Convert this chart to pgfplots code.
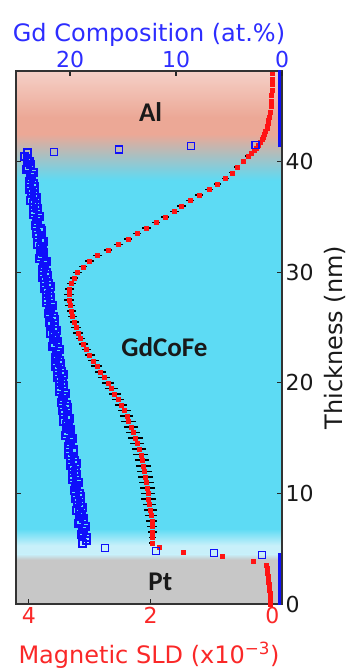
\documentclass[border=0pt]{standalone}
\usepackage{fontspec}
\setmainfont{DejaVu Sans}
\newfontfamily\labfont{Carlito}
\usepackage{pgfplots}
\pgfplotsset{compat=1.18}
\usepackage{pgfplotstable}

\definecolor{cyanbg}{RGB}{93,219,244}
\definecolor{lightband}{RGB}{200,240,250}
\definecolor{ptgray}{RGB}{199,199,199}
\definecolor{alsalmon}{RGB}{236,168,150}
\definecolor{alpink}{RGB}{246,212,204}
\definecolor{myblue}{RGB}{15,15,250}
\definecolor{myred}{RGB}{255,20,20}
\definecolor{txtblue}{RGB}{45,45,255}
\definecolor{txtred}{RGB}{250,40,40}

\pgfplotstableread{
t sld err
0.0 0.03 0
0.25 0.03 0
0.5 0.03 0
0.75 0.035 0
1.0 0.04 0
1.25 0.045 0
1.5 0.05 0
1.75 0.055 0
2.0 0.06 0
2.25 0.065 0
2.5 0.07 0
2.75 0.075 0
3.0 0.08 0
3.25 0.09 0
3.5 0.10 0
3.9 0.31 0
4.34 0.82 0
4.7 1.46 0
5.15 1.85 0
5.5 1.97 0.05
6.0 1.97 0.06
6.5 1.97 0.07
7.0 1.98 0.08
7.5 1.98 0.09
8.0 1.99 0.10
8.5 2.00 0.10
9.0 2.02 0.11
9.5 2.03 0.12
10.0 2.04 0.12
10.5 2.05 0.12
11.0 2.07 0.12
11.5 2.08 0.12
12.0 2.10 0.12
12.5 2.12 0.12
13.0 2.14 0.12
13.5 2.16 0.12
14.0 2.19 0.12
14.5 2.22 0.12
15.0 2.25 0.12
15.5 2.29 0.12
16.0 2.32 0.12
16.5 2.36 0.12
17.0 2.39 0.11
17.5 2.43 0.11
18.0 2.48 0.10
18.5 2.53 0.10
19.0 2.59 0.10
19.5 2.64 0.10
20.0 2.70 0.10
20.5 2.76 0.10
21.0 2.82 0.09
21.5 2.88 0.09
22.0 2.94 0.09
22.5 3.00 0.08
23.0 3.05 0.08
23.5 3.10 0.08
24.0 3.15 0.08
24.5 3.19 0.08
25.0 3.22 0.08
25.5 3.25 0.08
26.0 3.28 0.08
26.5 3.30 0.08
27.0 3.32 0.08
27.5 3.34 0.08
28.0 3.34 0.08
28.5 3.33 0.08
29.0 3.30 0.07
29.5 3.26 0.07
30.0 3.20 0.07
30.5 3.11 0.07
31.0 3.00 0.07
31.5 2.87 0.07
32.0 2.70 0.07
32.5 2.53 0.07
33.0 2.37 0.07
33.5 2.22 0.07
34.0 2.07 0.07
34.5 1.91 0.07
35.0 1.76 0.07
35.5 1.61 0.07
36.0 1.49 0.07
36.5 1.35 0.07
37.0 1.20 0.07
37.5 1.04 0.07
38.0 0.90 0.06
38.5 0.77 0.06
39.0 0.66 0.05
39.5 0.58 0.05
40.0 0.48 0.04
40.5 0.40 0.04
40.75 0.35 0.03
41.0 0.30 0.03
41.25 0.26 0
41.5 0.23 0
41.75 0.20 0
42.0 0.17 0
42.25 0.15 0
42.5 0.13 0
42.75 0.11 0
43.0 0.09 0
43.25 0.08 0
43.5 0.07 0
43.75 0.06 0
44.0 0.05 0
44.5 0.035 0
45.0 0.025 0
45.5 0.018 0
46.0 0.012 0
46.5 0.008 0
47.0 0.005 0
47.5 0.003 0
48.0 0.002 0
48.5 0.0 0
}\redtab

\pgfplotstableread{
t gd
5.5 18.87
5.75 18.41
6.0 18.49
6.25 18.93
6.5 18.82
6.75 18.76
7.0 18.55
7.25 19.19
7.5 19.12
7.75 18.76
8.0 18.90
8.25 19.14
8.5 19.38
8.75 18.82
9.0 19.00
9.25 19.34
9.5 19.48
9.75 19.02
10.0 19.11
10.25 19.55
10.5 19.44
10.75 19.38
11.0 19.16
11.25 19.80
11.5 19.74
11.75 19.38
12.0 19.52
12.25 19.76
12.5 19.99
12.75 19.43
13.0 19.62
13.25 19.96
13.5 20.10
13.75 19.64
14.0 19.72
14.25 20.16
14.5 20.05
14.75 19.99
15.0 19.78
15.25 20.42
15.5 20.35
15.75 19.99
16.0 20.13
16.25 20.37
16.5 20.61
16.75 20.05
17.0 20.24
17.25 20.58
17.5 20.71
17.75 20.25
18.0 20.34
18.25 20.78
18.5 20.67
18.75 20.61
19.0 20.39
19.25 21.03
19.5 20.97
19.75 20.61
20.0 20.75
20.25 20.99
20.5 21.22
20.75 20.66
21.0 20.85
21.25 21.19
21.5 21.33
21.75 20.87
22.0 20.95
22.25 21.39
22.5 21.28
22.75 21.22
23.0 21.01
23.25 21.65
23.5 21.59
23.75 21.23
24.0 21.36
24.25 21.60
24.5 21.84
24.75 21.28
25.0 21.47
25.25 21.81
25.5 21.94
25.75 21.48
26.0 21.57
26.25 22.01
26.5 21.90
26.75 21.84
27.0 21.62
27.25 22.26
27.5 22.20
27.75 21.84
28.0 21.98
28.25 22.22
28.5 22.45
28.75 21.89
29.0 22.08
29.25 22.42
29.5 22.56
29.75 22.10
30.0 22.19
30.25 22.63
30.5 22.51
30.75 22.45
31.0 22.24
31.25 22.88
31.5 22.82
31.75 22.46
32.0 22.59
32.25 22.83
32.5 23.07
32.75 22.51
33.0 22.70
33.25 23.04
33.5 23.17
33.75 22.71
34.0 22.80
34.25 23.24
34.5 23.13
34.75 23.07
35.0 22.85
35.25 23.49
35.5 23.43
35.75 23.07
36.0 23.21
36.25 23.45
36.5 23.69
36.75 23.13
37.0 23.31
37.25 23.65
37.5 23.79
37.75 23.33
38.0 23.42
38.25 23.86
38.5 23.74
38.75 23.68
39.0 23.47
39.25 24.11
39.5 24.05
39.75 23.69
40.0 23.82
40.25 24.06
40.5 24.30
40.8 24.05
}\bluetab

\pgfplotstableread{
t gd
40.9 21.5
41.1 15.4
41.4 8.6
41.5 2.5
5.06 16.7
4.79 11.9
4.61 6.4
4.43 1.9
}\blueout

\begin{document}
\begin{tikzpicture}
\begin{axis}[
  at={(0pt,0pt)}, anchor=south west, scale only axis,
  width=266pt, height=533pt,
  x dir=reverse, xmin=-0.16, xmax=4.21, ymin=0, ymax=48.2,
  axis on top,
  xtick={0,2,4}, xtick pos=left,
  ytick={0,10,20,30,40}, ytick pos=both, yticklabel pos=right,
  tick align=inside, major tick length=5pt,
  tick style={line width=1.2pt, color=black!85},
  axis line style={line width=1.5pt, color=black!80},
  /pgf/number format/assume math mode=true,
  ticklabel style={font=\fontsize{22}{26}\selectfont},
  xticklabel style={text=txtred},
  yticklabel style={text=black!90},
  xlabel={Magnetic SLD (x10\textsuperscript{−3})},
  xlabel style={at={(axis description cs:0.5,-0.0957)}, anchor=center,
    font=\fontsize{24}{28}\selectfont, text=txtred},
  ylabel={Thickness (nm)},
  ylabel style={at={(axis description cs:1.1992,0.5)}, anchor=center,
    font=\fontsize{24}{28}\selectfont, text=black!90},
]
\fill[ptgray] (axis cs:-1,0) rectangle (axis cs:5,4.0);
\shade[bottom color=ptgray, top color=lightband] (axis cs:-1,4.0) rectangle (axis cs:5,4.5);
\fill[lightband] (axis cs:-1,4.5) rectangle (axis cs:5,5.3);
\shade[bottom color=lightband, top color=cyanbg] (axis cs:-1,5.3) rectangle (axis cs:5,6.8);
\fill[cyanbg] (axis cs:-1,6.8) rectangle (axis cs:5,38.3);
\shade[bottom color=cyanbg, top color=alsalmon] (axis cs:-1,38.3) rectangle (axis cs:5,42.5);
\fill[alsalmon] (axis cs:-1,42.5) rectangle (axis cs:5,44.0);
\shade[bottom color=alsalmon, top color=alpink] (axis cs:-1,44.0) rectangle (axis cs:5,48.6);

\addplot[only marks, mark=square*, mark size=2pt, mark options={fill=myred, draw=myred},
  error bars/.cd, x dir=both, x explicit,
  error bar style={line width=1.5pt, black}, error mark=none]
  table[x=sld, y=t, x error=err] {\redtab};

\node[font=\labfont\bfseries\fontsize{27}{30}\selectfont, text=black!90] at (axis cs:2.0,44.5) {Al};
\node[font=\labfont\bfseries\fontsize{27}{30}\selectfont, text=black!90] at (axis cs:1.77,23.2) {GdCoFe};
\node[font=\labfont\bfseries\fontsize{27}{30}\selectfont, text=black!90] at (axis cs:1.84,2.0) {Pt};
\end{axis}

\begin{axis}[
  at={(0pt,0pt)}, anchor=south west, scale only axis,
  width=266pt, height=533pt,
  x dir=reverse, xmin=0, xmax=25.1, ymin=0, ymax=48.2,
  axis x line*=top, axis y line=none,
  xtick={0,10,20}, xtick align=inside, major tick length=5pt,
  tick style={line width=1.2pt, color=black!85},
  axis line style={line width=1.5pt, color=black!80},
  /pgf/number format/assume math mode=true,
  ticklabel style={font=\fontsize{22}{26}\selectfont},
  xticklabel style={text=txtblue},
  xlabel={Gd Composition (at.\%)},
  xlabel style={at={(axis description cs:0.5,1.068)}, anchor=center,
    font=\fontsize{24}{28}\selectfont, text=txtblue},
]
\addplot[myblue, line width=3.5pt] coordinates {(0.22,41.3) (0.22,48.6)};
\addplot[myblue, line width=3.5pt] coordinates {(0.22,-0.5) (0.22,4.6)};
\addplot[only marks, mark=square, mark size=3.5pt, mark options={draw=myblue, line width=2pt}]
  table[x=gd, y=t] {\bluetab};
\addplot[only marks, mark=square, mark size=3.5pt, mark options={draw=myblue, line width=1.3pt}]
  table[x=gd, y=t] {\blueout};
\end{axis}
\pgfresetboundingbox
\path[use as bounding box] (-16pt,-64pt) rectangle (333pt,604pt);
\end{tikzpicture}
\end{document}
